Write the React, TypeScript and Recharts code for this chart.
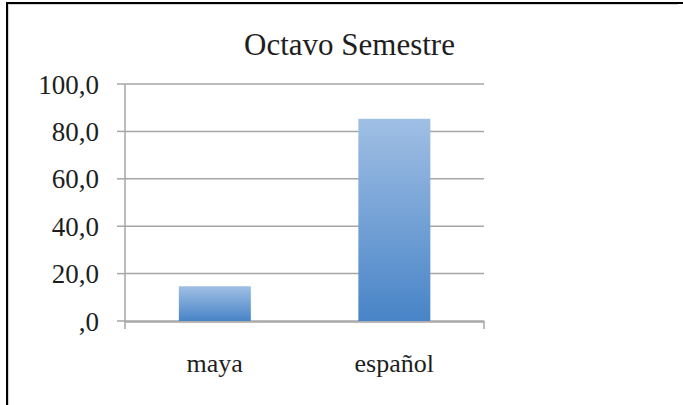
import { Bar, BarChart, CartesianGrid, XAxis, YAxis } from "recharts";

const categories = ["maya", "español"];
const values = [14.7, 85.3];
const yTicks = [0, 20, 40, 60, 80, 100];
const edgeTicks = [0, 1, 2];
const title = "Octavo Semestre";

const data = categories.map((name, i) => ({ name, value: values[i] }));

const serif = "'Liberation Serif', 'Times New Roman', serif";
const grid = "#a6a6a6";

const fmt = (v: number) => (v === 0 ? ",0" : v.toFixed(1).replace(".", ","));

export default function App() {
  return (
    <div
      style={{
        position: "absolute",
        left: 0,
        top: 0,
        width: 683,
        height: 405,
        background: "#fff",
        overflow: "hidden",
      }}
    >
      <div
        style={{
          position: "absolute",
          left: 6,
          top: 2,
          width: 670,
          height: 401,
          borderTop: "2px solid #000",
          borderLeft: "2px solid #000",
          borderBottom: "1px solid #e4e4e4",
          boxShadow: "inset 1px 1px 0 #d0d0d0",
        }}
      />
      <div
        style={{
          position: "absolute",
          left: 6,
          top: 2,
          width: 677,
          height: 0,
          borderTop: "2px solid #000",
        }}
      />
      <div
        style={{
          position: "absolute",
          left: 244,
          top: 29,
          width: 200,
          textAlign: "center",
          whiteSpace: "nowrap",
          fontFamily: serif,
          fontSize: 31,
          lineHeight: "31px",
          color: "#1e1e1e",
        }}
      >
        {title}
      </div>
      <div style={{ position: "absolute", left: 0, top: 0 }}>
        <BarChart
          width={683}
          height={405}
          data={data}
          margin={{ top: 84, right: 199, bottom: 0, left: 0 }}
          barCategoryGap="30%"
        >
          <defs>
            <linearGradient id="barFill" x1="0" y1="0" x2="0" y2="1">
              <stop offset="0%" stopColor="#a0bfe4" />
              <stop offset="100%" stopColor="#4884c7" />
            </linearGradient>
          </defs>
          <CartesianGrid
            xAxisId="b"
            vertical={false}
            stroke={grid}
            strokeWidth={1.5}
          />
          <XAxis
            xAxisId="a"
            type="number"
            domain={[0, 2]}
            ticks={edgeTicks}
            height={1}
            tickSize={8}
            tick={() => <g />}
            axisLine={false}
            tickLine={{ stroke: grid, strokeWidth: 1.5 }}
          />
          <XAxis
            xAxisId="b"
            dataKey="name"
            height={83}
            tickSize={8}
            tickMargin={24}
            tickLine={false}
            axisLine={{ stroke: grid, strokeWidth: 1.5 }}
            tick={{ fontSize: 26, fontFamily: serif, fill: "#1e1e1e" }}
          />
          <YAxis
            width={125}
            domain={[0, 100]}
            ticks={yTicks}
            tickSize={8}
            tickMargin={18}
            tickFormatter={fmt}
            axisLine={{ stroke: grid, strokeWidth: 1.5 }}
            tickLine={{ stroke: grid, strokeWidth: 1.5 }}
            tick={{ fontSize: 27, fontFamily: serif, fill: "#1e1e1e" }}
          />
          <Bar
            xAxisId="b"
            dataKey="value"
            fill="url(#barFill)"
            isAnimationActive={false}
          />
        </BarChart>
      </div>
    </div>
  );
}
